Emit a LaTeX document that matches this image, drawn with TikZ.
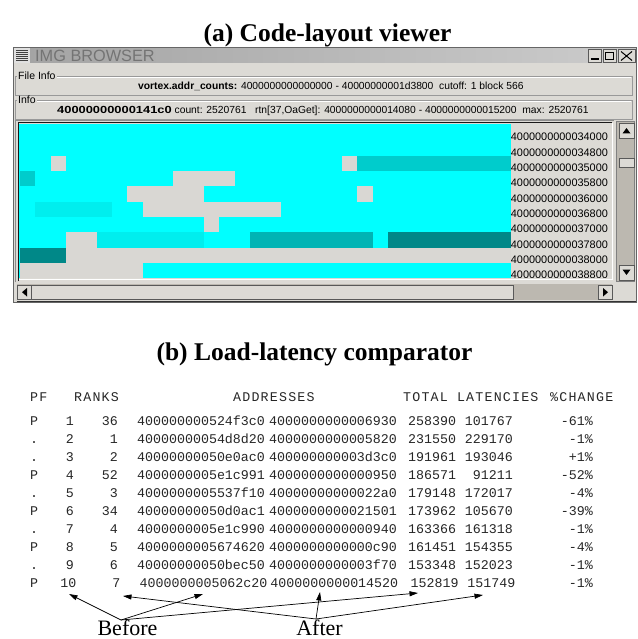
\documentclass[tikz,border=0pt]{standalone}
\usepackage{fontspec}
\usepackage{graphicx}
\setmainfont{Liberation Serif}
\newfontfamily\uifont{Liberation Sans}
\newfontfamily\tabfont{Liberation Mono}
\newfontfamily\hdrfont[LetterSpace=9]{Liberation Mono}
\usetikzlibrary{arrows.meta}
\definecolor{winbg}{HTML}{DCDAD5}
\definecolor{cellgray}{HTML}{D9D7D3}
\definecolor{trough}{HTML}{BCB8B0}
\definecolor{cyA}{HTML}{00FFFF}
\definecolor{cyB}{HTML}{00EEEE}
\definecolor{cyC}{HTML}{00CCCC}
\definecolor{cyD}{HTML}{00B4B4}
\definecolor{cyE}{HTML}{008888}
\definecolor{titlegray}{HTML}{747474}
\begin{document}
\begin{tikzpicture}[x=1pt,y=-1pt,
  ttl/.style={font=\bfseries\fontsize{25.5}{28}\selectfont, anchor=base},
  uitext/.style={font=\uifont\fontsize{10.3}{12}\selectfont, anchor=west, inner sep=0pt},
  grplabel/.style={font=\uifont\fontsize{10.5}{12}\selectfont, anchor=west, fill=winbg, inner xsep=1pt, inner ysep=0pt},
  addrlabel/.style={font=\uifont\fontsize{10.9}{12}\selectfont, anchor=west, inner sep=0pt},
  tab/.style={font=\tabfont\fontsize{13.3}{15}\selectfont, inner sep=0pt, text=black!85},
  hdr/.style={font=\hdrfont\fontsize{13.3}{15}\selectfont, inner sep=0pt, text=black!85, anchor=base west},
  btn/.style={fill=winbg, draw=black!65, line width=0.8pt},
  ptr/.style={-{Triangle[length=8.5pt,width=5pt]}, line width=0.7pt},
  lbl/.style={font=\fontsize{22}{24}\selectfont, anchor=base},
]
\useasboundingbox (0,0) rectangle (637,639);

% ---------- (a) title
\node[ttl] (ta) at (327.5,42) {(a) Code-layout viewer};

% ---------- window
\fill[winbg] (13,47) rectangle (637,303);
\shade[left color=black!36, right color=black!20] (14,48) rectangle (636,63);
\draw[black!60] (13.5,47.5) rectangle (636.5,302.5);
\draw[black!80] (16.5,301) -- (636,301);
% menu icon
\fill[black!12] (14,48) rectangle (30,63);
\foreach \yy in {50,52,...,60} \draw[black!75, line width=0.8pt] (16,\yy) -- (28,\yy);
\node[font=\uifont\fontsize{16.3}{18}\selectfont, text=titlegray, anchor=west, inner sep=0pt] (wtitle) at (35,55.5) {IMG BROWSER};
% title buttons
\draw[btn] (588,49.5) rectangle (601,62);
\draw[black, line width=1.4pt] (590.5,59) -- (598.5,59);
\draw[btn] (603,49.5) rectangle (616,62);
\draw[black, line width=0.9pt] (605.5,52) rectangle (613.5,59.5);
\draw[black, line width=1.8pt] (605.5,52.6) -- (613.5,52.6);
\draw[btn] (618,49.5) rectangle (635,62);
\draw[black, line width=1pt] (621,51.5) -- (632,60.5) (632,51.5) -- (621,60.5);

% File Info group
\draw[black!40] (15.5,76) rectangle (632,95);
\draw[white] (16.5,77) -- (631,77);
\node[grplabel] (fileinfo) at (17,75.5) {File Info};
\node[uitext] (fline) at (138,86) {{\bfseries vortex.addr\_counts:} 4000000000000000 - 40000000001d3800\ \ cutoff: 1 block 566};

% Info group
\draw[black!40] (15.5,100.5) rectangle (632,119.5);
\draw[white] (16.5,101.5) -- (631,101.5);
\node[grplabel] (info) at (17,100) {Info};
\node[uitext] (iline) at (57,110.5) {\scalebox{1.25}[1]{\bfseries 40000000000141c0} count: 2520761\ \ \ rtn[37,OaGet]: 4000000000014080 - 4000000000015200\ \ max: 2520761};

% grid frame (sunken)
\draw[black!45] (15.5,282) -- (15.5,120.5) -- (613.5,120.5);
\draw[black!90, line width=1pt] (18,281) -- (18,123) -- (612,123);
\draw[white] (19,279.5) -- (612.5,279.5) -- (612.5,123.5);

% grid cells
\fill[cyA] (19,124) rectangle (510.7,278.3);
\foreach \r/\a/\b/\c in {
  2/2/2/cellgray, 2/21/21/cellgray, 2/22/31/cyC,
  3/0/0/cyC, 3/10/13/cellgray,
  4/7/11/cellgray, 4/22/22/cellgray,
  5/1/5/cyB, 5/8/16/cellgray,
  6/12/12/cellgray,
  7/3/4/cellgray, 7/5/11/cyB, 7/15/22/cyD, 7/24/31/cyE,
  8/0/2/cyE, 8/3/31/cellgray,
  9/0/7/cellgray}
  \fill[fill=\c] (20+15.334*\a, 125+15.33*\r) rectangle (20+15.334*\b+15.334, 125+15.33*\r+15.33);

% address labels
\begin{scope}
\clip (510.5,124) rectangle (612,277.5);
\foreach \t [count=\i from 0] in {34000,34800,35000,35800,36000,36800,37000,37800,38000,38800}
  \node[addrlabel] (lab\i) at (510.7, 136.9+15.36*\i) {40000000000\t};
\end{scope}

% vertical scrollbar
\fill[trough] (616,121) rectangle (635,282);
\draw[black!50] (616.5,121.5) rectangle (634.5,281.5);
\draw[btn] (619,123) rectangle (634,138);
\fill[black] (622.5,133.5) -- (630.5,133.5) -- (626.5,128) -- cycle;
\draw[btn] (619,158.5) rectangle (634,167);
\draw[btn] (619,265) rectangle (634,280);
\fill[black] (622.5,269.5) -- (630.5,269.5) -- (626.5,275) -- cycle;

% horizontal scrollbar
\fill[trough] (17,284) rectangle (612,300);
\draw[btn] (17.5,285) rectangle (31,299.5);
\fill[black] (22,292.2) -- (27,288) -- (27,296.5) -- cycle;
\draw[btn] (31,285) rectangle (513,299.5);
\draw[btn] (598,285) rectangle (612,299.5);
\fill[black] (608,292.2) -- (603,288) -- (603,296.5) -- cycle;

% ---------- (b) title
\node[ttl] (tb) at (314.5,360) {(b) Load-latency comparator};

% ---------- table
\node[hdr] (hpf) at (30,401) {PF};
\node[hdr] (hrk) at (74,401) {RANKS};
\node[hdr] (had) at (233,401) {ADDRESSES};
\node[hdr] (htl) at (403,401) {TOTAL LATENCIES};
\node[hdr] (hch) at (550,401) {\%CHANGE};

\foreach \i/\pf/\ra/\rb/\aa/\ab/\ta/\tb/\pc/\s in {
  1/P/1/36/400000000524f3c0/4000000000006930/258390/101767/-61/0,
  2/./2/1/40000000054d8d20/4000000000005820/231550/229170/-1/0,
  3/./3/2/40000000050e0ac0/400000000003d3c0/191961/193046/+1/0,
  4/P/4/52/4000000005e1c991/4000000000000950/186571/91211/-52/0,
  5/./5/3/4000000005537f10/40000000000022a0/179148/172017/-4/0,
  6/P/6/34/40000000050d0ac1/4000000000021501/173962/105670/-39/0,
  7/./7/4/4000000005e1c990/4000000000000940/163366/161318/-1/0,
  8/P/8/5/4000000005674620/4000000000000c90/161451/154355/-4/0,
  9/./9/6/40000000050bec50/4000000000003f70/153348/152023/-1/0,
  10/P/10/7/4000000005062c20/4000000000014520/152819/151749/-1/2.5}
{
  \pgfmathsetmacro{\yy}{425+18*(\i-1)}
  \node[tab, anchor=base west] (pf\i) at (30,\yy) {\pf};
  \node[tab, anchor=base east] (rb\i) at (74+\s,\yy) {\ra};
  \node[tab, anchor=base east] (ra\i) at (118+\s,\yy) {\rb};
  \node[tab, anchor=base west] (aa\i) at (137+\s,\yy) {\aa};
  \node[tab, anchor=base west] (ab\i) at (269+\s*0.5,\yy) {\ab};
  \node[tab, anchor=base west] (ta\i) at (408+\s,\yy) {\ta};
  \node[tab, anchor=base east] (tb\i) at (513+\s,\yy) {\tb};
  \node[tab, anchor=base east] (pc\i) at (593,\yy) {\pc\%};
}

% ---------- Before / After
\node[lbl] (before) at (127.5,635.5) {Before};
\node[lbl] (after) at (319.5,635.5) {After};
\coordinate (bapex) at (121,620);
\coordinate (aapex) at (316,619);
\coordinate (trb) at (69,594);
\coordinate (taa) at (203,594);
\coordinate (tta) at (418,593);
\coordinate (tra) at (123,596);
\coordinate (tab2) at (320,592);
\coordinate (ttb) at (483,595);
\draw[ptr] (bapex) -- (trb);
\draw[ptr] (bapex) -- (taa);
\draw[ptr] (bapex) -- (tta);
\draw[ptr] (aapex) -- (tra);
\draw[ptr] (aapex) -- (tab2);
\draw[ptr] (aapex) -- (ttb);
\end{tikzpicture}
\end{document}
